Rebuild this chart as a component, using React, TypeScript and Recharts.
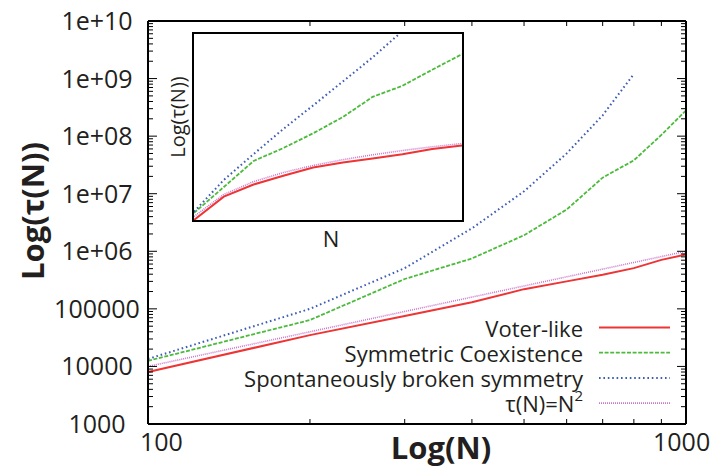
import React from 'react';
import { LineChart, Line, XAxis, YAxis } from 'recharts';

// system sizes and relaxation times
const sizes = [100, 200, 300, 400, 500, 600, 700, 800, 900, 1000];
const voterLike = [8000, 35000, 75000, 130000, 220000, 300000, 390000, 510000, 710000, 880000];
const symmetricCoexistence = [12500, 64000, 330000, 750000, 1900000, 5300000, 19000000, 38000000, 105000000, 280000000];
const brokenSymmetry = [13500, 100000, 510000, 2500000, 11000000, 50000000, 230000000, 1200000000, null, null];
const nSquared = [10000, 40000, 90000, 160000, 250000, 360000, 490000, 640000, 810000, 1000000];

const yMajorTicks = [1000, 10000, 100000, 1e6, 1e7, 1e8, 1e9, 1e10];
const yTickLabels = ['1000', '10000', '100000', '1e+06', '1e+07', '1e+08', '1e+09', '1e+10'];
const xMajorTicks = [100, 1000];
const xTickLabels = ['100', '1000'];
const minorSteps = [2, 3, 4, 5, 6, 7, 8, 9];

const yTicks = yMajorTicks.flatMap((d, i) =>
  i < yMajorTicks.length - 1 ? [d, ...minorSteps.map((m) => m * d)] : [d],
);
const xTicks = [100, ...minorSteps.map((m) => m * 100), 1000];

const data = sizes.map((n, i) => ({
  n,
  voter: voterLike[i],
  sym: symmetricCoexistence[i],
  broken: brokenSymmetry[i],
  sq: nSquared[i],
}));

const FONT = '"Open Sans", sans-serif';
const TEXT = '#231f20';

const SERIES = [
  { key: 'voter', name: 'Voter-like', color: '#ee3434', width: 2, dash: undefined },
  { key: 'sym', name: 'Symmetric Coexistence', color: '#4cbb3c', width: 1.8, dash: '4 1.6' },
  { key: 'broken', name: 'Spontaneously broken symmetry', color: '#3d5cb4', width: 2, dash: '1.6 2.8' },
  { key: 'sq', name: 'τ(N)=N²', color: '#cc77cc', width: 1.6, dash: '1 1' },
];

const yLabel = (v: number) => {
  const i = yMajorTicks.indexOf(v);
  return i >= 0 ? yTickLabels[i] : null;
};
const xLabel = (v: number) => {
  const i = xMajorTicks.indexOf(v);
  return i >= 0 ? xTickLabels[i] : null;
};

const LeftTick = (props: any) => {
  const { x, y, payload } = props;
  const label = yLabel(payload.value);
  return (
    <g>
      <line x1={x} x2={x + (label ? 9 : 5)} y1={y} y2={y} stroke="#000" strokeWidth={1} />
      {label && (
        <text x={x - 51} y={y - 1} textAnchor="middle" dominantBaseline="central" fontSize={25} fill={TEXT} fontFamily={FONT}>
          {label}
        </text>
      )}
    </g>
  );
};

const RightTick = (props: any) => {
  const { x, y, payload } = props;
  const major = yLabel(payload.value) !== null;
  return <line x1={x} x2={x - (major ? 9 : 5)} y1={y} y2={y} stroke="#000" strokeWidth={1} />;
};

const BottomTick = (props: any) => {
  const { x, y, payload } = props;
  const label = xLabel(payload.value);
  const first = payload.value === xMajorTicks[0];
  return (
    <g>
      <line x1={x} x2={x} y1={y} y2={y - (label ? 9 : 5)} stroke="#000" strokeWidth={1} />
      {label && (
        <text
          x={first ? x - 8 : x - 33}
          y={y + 17}
          textAnchor="start"
          dominantBaseline="central"
          fontSize={25}
          fill={TEXT}
          fontFamily={FONT}
        >
          {label}
        </text>
      )}
    </g>
  );
};

const TopTick = (props: any) => {
  const { x, y, payload } = props;
  const major = xLabel(payload.value) !== null;
  return <line x1={x} x2={x} y1={y} y2={y + (major ? 9 : 5)} stroke="#000" strokeWidth={1} />;
};

const axisLine = { stroke: '#000', strokeWidth: 2 };

function lines(yId?: string) {
  return SERIES.map((s) => (
    <Line
      key={s.key}
      yAxisId={yId}
      type="linear"
      dataKey={s.key}
      stroke={s.color}
      strokeWidth={s.width}
      strokeDasharray={s.dash}
      dot={false}
      isAnimationActive={false}
    />
  ));
}

export default function App() {
  return (
    <div style={{ position: 'absolute', left: 0, top: 0, width: 717, height: 471, background: '#fff', fontFamily: FONT }}>
      <LineChart width={717} height={471} data={data} margin={{ top: 0, right: 0, bottom: 0, left: 0 }}>
        <XAxis
          dataKey="n"
          type="number"
          scale="log"
          domain={[100, 1000]}
          ticks={xTicks}
          interval={0}
          height={47}
          tickSize={0}
          tickMargin={0}
          tickLine={false}
          axisLine={axisLine}
          tick={<BottomTick />}
        />
        <XAxis
          xAxisId="top"
          orientation="top"
          dataKey="n"
          type="number"
          scale="log"
          domain={[100, 1000]}
          ticks={xTicks}
          interval={0}
          height={21}
          tickSize={0}
          tickMargin={0}
          tickLine={false}
          axisLine={axisLine}
          tick={<TopTick />}
        />
        <YAxis
          yAxisId="left"
          type="number"
          scale="log"
          domain={[1000, 1e10]}
          ticks={yTicks}
          interval={0}
          width={148}
          tickSize={0}
          tickMargin={0}
          tickLine={false}
          axisLine={axisLine}
          tick={<LeftTick />}
          allowDataOverflow
        />
        <YAxis
          yAxisId="right"
          orientation="right"
          type="number"
          scale="log"
          domain={[1000, 1e10]}
          ticks={yTicks}
          interval={0}
          width={31}
          tickSize={0}
          tickMargin={0}
          tickLine={false}
          axisLine={axisLine}
          tick={<RightTick />}
          allowDataOverflow
        />
        {lines('left')}
      </LineChart>

      {/* inset: linear N, log tau */}
      <div
        style={{
          position: 'absolute',
          left: 192,
          top: 32,
          width: 272,
          height: 190,
          border: '2px solid #000',
          boxSizing: 'border-box',
          background: '#fff',
        }}
      >
        <LineChart width={268} height={186} data={data} margin={{ top: 0, right: 0, bottom: 0, left: 0 }}>
          <XAxis dataKey="n" type="number" domain={[100, 1000]} hide />
          <YAxis type="number" scale="log" domain={[8000, 1e9]} hide allowDataOverflow />
          {lines()}
        </LineChart>
      </div>

      <svg
        width={717}
        height={471}
        style={{ position: 'absolute', left: 0, top: 0, pointerEvents: 'none' }}
        fontFamily={FONT}
      >
        <text x={441} y={447} textAnchor="middle" dominantBaseline="central" fontSize={31} fontWeight={700} fill={TEXT}>
          Log(N)
        </text>
        <text
          x={32}
          y={211}
          transform="rotate(-90 32 211)"
          textAnchor="middle"
          dominantBaseline="central"
          fontSize={31}
          fontWeight={700}
          fill={TEXT}
        >
          Log(τ(N))
        </text>
        <text x={331} y={238} textAnchor="middle" dominantBaseline="central" fontSize={22} fill={TEXT}>
          N
        </text>
        <text
          x={177}
          y={117}
          transform="rotate(-90 177 117)"
          textAnchor="middle"
          dominantBaseline="central"
          fontSize={20}
          fill={TEXT}
        >
          Log(τ(N))
        </text>

        {SERIES.map((s, i) => {
          const y = 327.5 + i * 25.2;
          return (
            <g key={s.key}>
              <text x={583} y={y} textAnchor="end" dominantBaseline="central" fontSize={22} fill={TEXT}>
                {s.key === 'sq' ? (
                  <>
                    τ(N)=N<tspan dy={-8} fontSize={15}>2</tspan>
                  </>
                ) : (
                  s.name
                )}
              </text>
              <line
                x1={599}
                x2={670}
                y1={y}
                y2={y}
                stroke={s.color}
                strokeWidth={s.width}
                strokeDasharray={s.dash}
              />
            </g>
          );
        })}
      </svg>
    </div>
  );
}
